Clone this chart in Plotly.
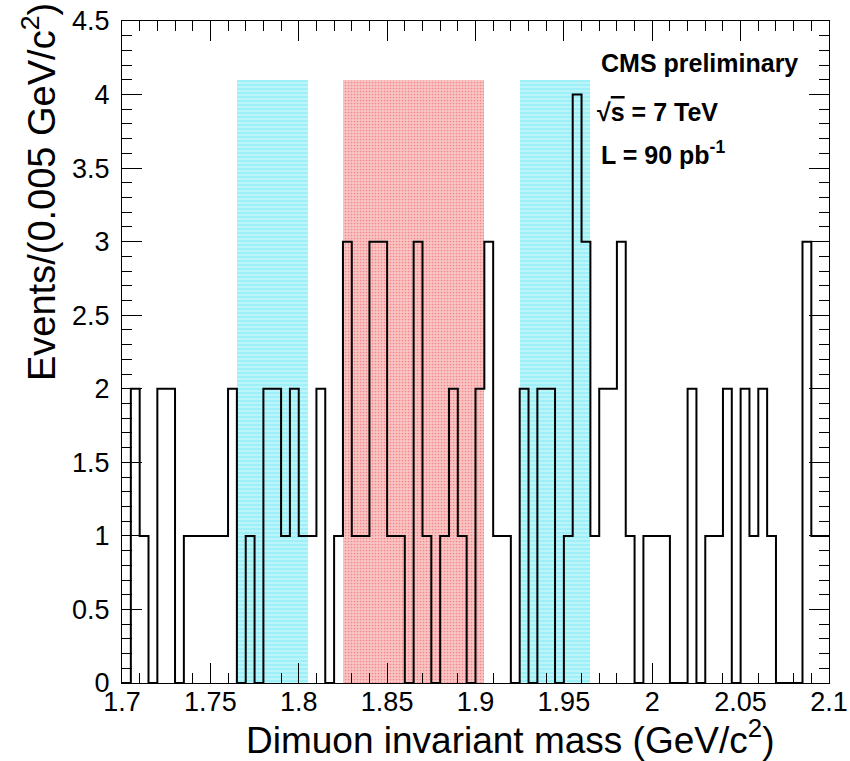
import numpy as np
import plotly.graph_objects as go

# ---- data ----
x_min, x_max, bin_width = 1.7, 2.1, 0.005
counts = [0, 2, 1, 0, 2, 2, 0, 1, 1, 1,
          1, 1, 2, 0, 1, 0, 2, 2, 1, 2,
          1, 1, 2, 0, 1, 3, 1, 1, 3, 3,
          1, 1, 0, 3, 1, 0, 1, 2, 1, 0,
          2, 3, 1, 1, 0, 2, 0, 2, 2, 0,
          1, 4, 3, 1, 2, 2, 3, 1, 0, 1,
          1, 1, 0, 0, 2, 0, 1, 1, 2, 0,
          2, 1, 2, 1, 0, 0, 0, 3, 1, 1]

band_lo = [1.765, 1.825, 1.925]
band_hi = [1.805, 1.905, 1.965]
band_top = [4.1, 4.1, 4.1]
band_kind = ["side", "signal", "side"]

x_tick_vals = [1.7, 1.75, 1.8, 1.85, 1.9, 1.95, 2.0, 2.05, 2.1]
x_tick_text = ["1.7", "1.75", "1.8", "1.85", "1.9", "1.95", "2", "2.05", "2.1"]
y_tick_vals = [0, 0.5, 1, 1.5, 2, 2.5, 3, 3.5, 4, 4.5]
y_tick_text = ["0", "0.5", "1", "1.5", "2", "2.5", "3", "3.5", "4", "4.5"]

# ---- layout geometry (pixels) ----
W, H = 850, 761
L, R, T, B = 122, 21, 21, 78
pw, ph = W - L - R, H - T - B


def px(x):
    return (x - L) / pw


def py(y):
    return (H - B - y) / ph


FONT = "Liberation Sans, Arial, Helvetica, sans-serif"

fig = go.Figure()

styles = {
    "side": dict(shape="-", fgcolor="#ffffff", bgcolor="#9ef0f8", size=4, solidity=0.3),
    "signal": dict(shape=".", fgcolor="#f04848", bgcolor="#f8c4c4", size=3, solidity=0.25),
}
for lo, hi, top, kind in zip(band_lo, band_hi, band_top, band_kind):
    fig.add_trace(go.Bar(
        x=[(lo + hi) / 2], y=[top], width=[hi - lo], base=[0],
        marker=dict(color=styles[kind]["bgcolor"], line=dict(width=0),
                    pattern=styles[kind]),
        showlegend=False, hoverinfo="skip",
    ))

nb = len(counts)
edges = np.round(x_min + bin_width * np.arange(nb + 1), 4)
yy = list(counts) + [counts[-1]]
fig.add_trace(go.Scatter(
    x=edges, y=yy, mode="lines", line=dict(color="black", width=2, shape="hv"),
    showlegend=False, hoverinfo="skip",
))

axis_common = dict(
    showgrid=False, zeroline=False, showline=True, linecolor="black", linewidth=1,
    mirror="ticks", ticks="inside", ticklen=20, tickwidth=1, tickcolor="black",
    tickfont=dict(family=FONT, size=27, color="black"),
)

fig.update_xaxes(
    range=[x_min, x_max], tickvals=x_tick_vals, ticktext=x_tick_text,
    minor=dict(ticks="inside", dtick=0.01, ticklen=10, tickwidth=1, tickcolor="black"),
    ticklabelstandoff=-5,
    **axis_common,
)
fig.update_yaxes(
    range=[0, 4.5], tickvals=y_tick_vals, ticktext=y_tick_text,
    minor=dict(ticks="inside", dtick=0.1, ticklen=10, tickwidth=1, tickcolor="black"),
    ticklabelstandoff=6,
    **axis_common,
)

annotations = [
    dict(text="Dimuon invariant mass (GeV/c<sup>2</sup>)", x=px(776), y=py(763),
         xanchor="right", yanchor="bottom", textangle=0,
         font=dict(family=FONT, size=37, color="black")),
    dict(text="Events/(0.005 GeV/c<sup>2</sup>)", x=px(13), y=py(1),
         xanchor="left", yanchor="top", textangle=-90,
         font=dict(family=FONT, size=38, color="black")),
    dict(text="<b>CMS preliminary</b>", x=px(599), y=py(63),
         xanchor="left", yanchor="middle",
         font=dict(family=FONT, size=25, color="black")),
    dict(text="<b>√<span style='text-decoration:overline'>s</span> = 7 TeV</b>",
         x=px(595), y=py(112), xanchor="left", yanchor="middle",
         font=dict(family=FONT, size=25, color="black")),
    dict(text="<b>L = 90 pb<sup>-1</sup></b>", x=px(599), y=py(153),
         xanchor="left", yanchor="middle",
         font=dict(family=FONT, size=25, color="black")),
]
for a in annotations:
    a.update(xref="paper", yref="paper", showarrow=False)

fig.update_layout(
    width=W, height=H, margin=dict(l=L, r=R, t=T, b=B, autoexpand=False),
    paper_bgcolor="white", plot_bgcolor="white",
    bargap=0, barmode="overlay",
    annotations=annotations,
)

fig.write_html("out.html")
